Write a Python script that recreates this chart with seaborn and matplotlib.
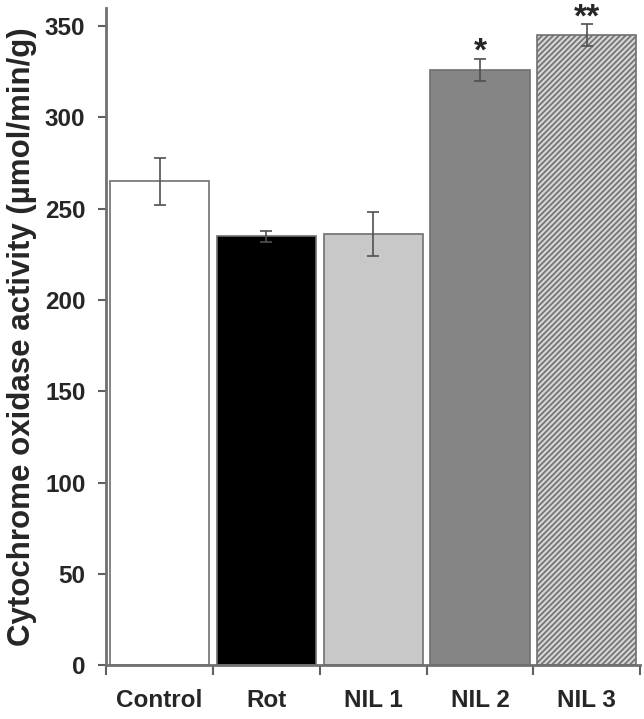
import matplotlib
matplotlib.use("Agg")
import matplotlib.pyplot as plt
import seaborn as sns
import pandas as pd
import numpy as np

groups = ["Control", "Rot", "NIL 1", "NIL 2", "NIL 3"]
values = [265, 235, 236, 326, 345]
errors = [13, 3, 12, 6, 6]
stars = ["", "", "", "*", "**"]
colors = ["#ffffff", "#000000", "#c8c8c8", "#858585", "#d4d4d4"]

sns.set_style("white")
plt.rcParams['font.family'] = ['Liberation Sans', 'DejaVu Sans']
plt.rcParams['hatch.color'] = '#8c8c8c'
plt.rcParams['hatch.linewidth'] = 1.2

df = pd.DataFrame({"group": groups, "value": values})
fig = plt.figure(figsize=(6.44, 7.19), dpi=100)
ax = fig.add_axes([0.165, 0.075, 0.829, 0.914])
sns.barplot(data=df, x="group", y="value", hue="group", palette=colors,
            legend=False, width=0.93, edgecolor="#707070", linewidth=1.2, ax=ax)
for i, p in enumerate(ax.patches):
    if i == 4:
        p.set_hatch("//////")
ax.errorbar(np.arange(len(groups)), values, yerr=errors, fmt="none",
            ecolor="#505050", elinewidth=1.2, capsize=4, capthick=1.2)
for i, s in enumerate(stars):
    if s:
        ax.text(i, values[i] + errors[i] - 1, s, ha="center", va="baseline",
                fontsize=24, fontweight="bold", clip_on=False)

ax.set_xlim(-0.5, 4.5)
ax.set_ylim(0, 360)
ax.set_yticks(range(0, 351, 50))
ax.set_xticks(np.arange(-0.5, 4.6, 1.0))
ax.set_xticklabels([])
ax.set_xticks(range(len(groups)), minor=True)
ax.set_xticklabels(groups, minor=True, fontsize=17.5, fontweight="bold")
ax.tick_params(axis="x", which="major", direction="out", length=7, width=1.5,
               color="#606060", bottom=True)
ax.tick_params(axis="x", which="minor", length=0, pad=17)
ax.tick_params(axis="y", direction="out", length=6, width=1.5, color="#606060",
               labelsize=17.5, left=True, pad=9)
for lab in ax.get_yticklabels():
    lab.set_fontweight("bold")
ax.set_xlabel("")
ax.set_ylabel("Cytochrome oxidase activity (µmol/min/g)", fontsize=22.5,
              fontweight="bold", labelpad=6)
for side in ["top", "right"]:
    ax.spines[side].set_visible(False)
for side in ["left", "bottom"]:
    ax.spines[side].set_color("#707070")
    ax.spines[side].set_linewidth(2)

fig.savefig("out.png", dpi=100)
